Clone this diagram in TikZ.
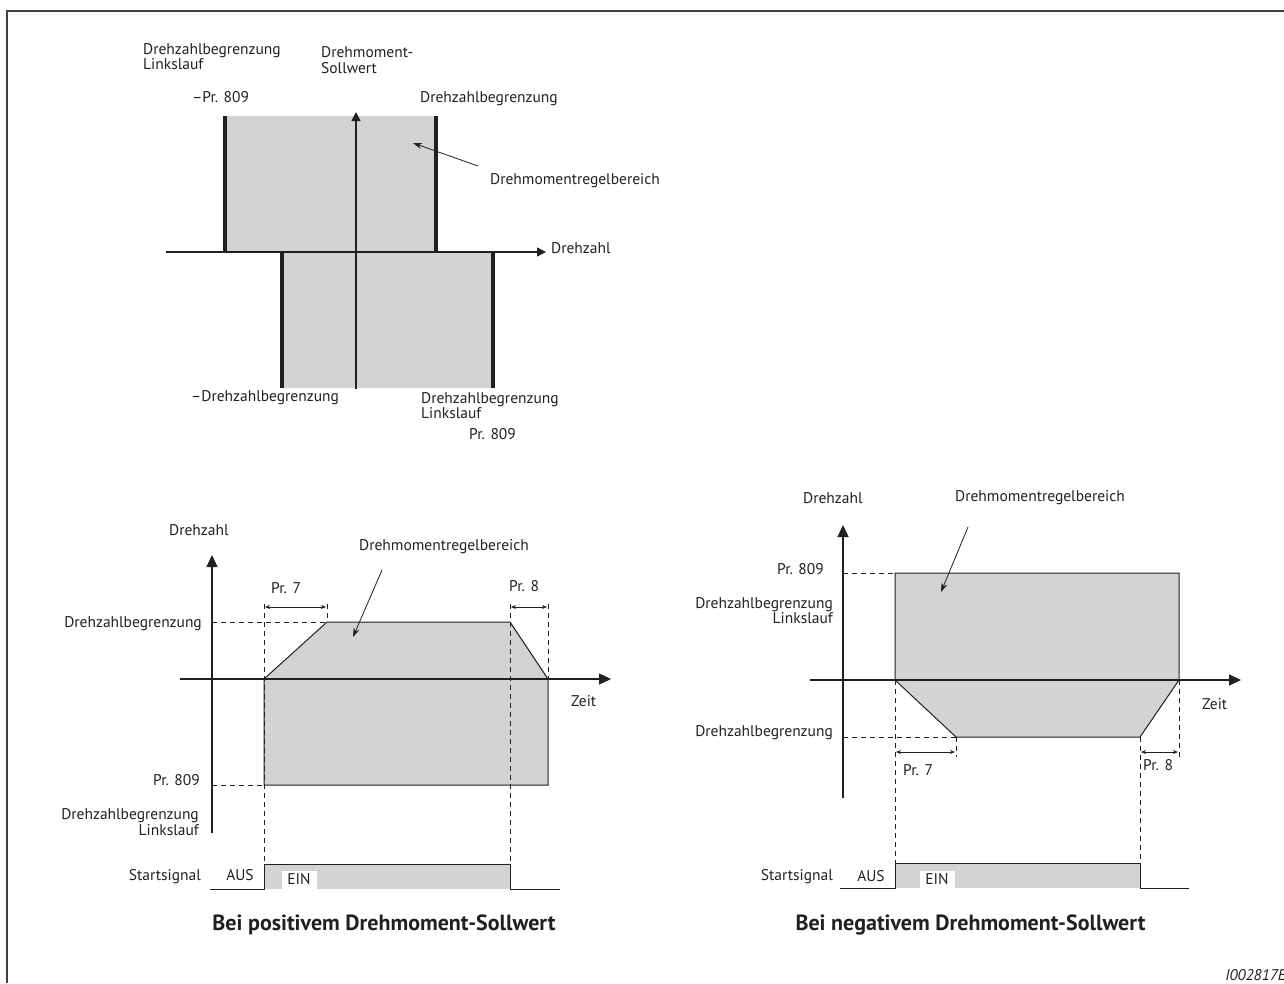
\documentclass[tikz,border=0pt]{standalone}
\usepackage{fontspec}
\setmainfont{PT Sans}
\usetikzlibrary{arrows.meta}
\definecolor{regiongray}{RGB}{209,211,212}
\definecolor{framegray}{RGB}{64,64,64}
\definecolor{inkblack}{RGB}{35,31,32}

\begin{document}
\begin{tikzpicture}[x=1pt,y=-1pt,inkblack,
        lbl/.style={inner sep=0pt,font=\fontsize{15.5}{15.5}\selectfont},
        caption/.style={inner sep=0pt,font=\fontsize{22}{23}\selectfont\bfseries},
        bigaxis/.style={line width=1.3pt,-{Triangle[length=12pt,width=11pt]}},
        smallaxis/.style={line width=1.3pt,-{Triangle[length=9pt,width=9pt]}},
        region/.style={fill=regiongray,draw=inkblack,line width=1pt},
        limitbar/.style={line width=4.5pt},
        guide/.style={line width=0.7pt,dash pattern=on 5pt off 4pt},
        span/.style={line width=0.7pt,{Stealth[length=5pt,width=4pt]}-{Stealth[length=5pt,width=4pt]}},
        pointer/.style={line width=0.8pt,-{Stealth[length=9pt,width=6pt]}},
        signal/.style={line width=1pt},
        einbox/.style={fill=white,inner sep=0pt,minimum width=35pt,minimum height=18pt,font=\fontsize{15.5}{15.5}\selectfont}]
    \useasboundingbox (0,0) rectangle (1284,983);
    \draw[framegray,line width=2pt] (7,983) -- (7,11) -- (1284,11);

    % speed limit diagram
    \fill[regiongray] (225,116) rectangle (436,252);
    \fill[regiongray] (282,252) rectangle (493,388);
    \draw[limitbar] (225,116) -- (225,252);
    \draw[limitbar] (436,116) -- (436,252);
    \draw[limitbar] (282,252) -- (282,388);
    \draw[limitbar] (493,252) -- (493,388);
    \draw[smallaxis] (166,252) -- (546,252);
    \draw[smallaxis] (356,389) -- (356,112);
    \node[lbl,anchor=west,align=left] (revlimA) at (143,56.5) {Drehzahlbegrenzung\\Linkslauf};
    \node[lbl,anchor=west,align=left] (torqueref) at (321,60) {Drehmoment-\\Sollwert};
    \node[lbl,anchor=west] (negprA) at (192,97) {–Pr. 809};
    \node[lbl,anchor=west] (fwdlimA) at (420,99) {Drehzahlbegrenzung};
    \node[lbl,anchor=west] (ctrlA) at (490,181) {Drehmomentregelbereich};
    \node[lbl,anchor=west] (speedA) at (551,248) {Drehzahl};
    \node[lbl,anchor=west] (neglimA) at (191,398) {–Drehzahlbegrenzung};
    \node[lbl,anchor=west,align=left] (revlimB) at (421,405.5) {Drehzahlbegrenzung\\Linkslauf};
    \node[lbl,anchor=west] (prA) at (469,434) {Pr. 809};
    \coordinate (ptrA) at (478,166);
    \coordinate (tipA) at (413,143);
    \draw[pointer] (ptrA) -- (tipA);

    % positive torque reference
    \draw[region] (264,679) -- (327,622) -- (510,622) -- (548,679) -- (548,785) -- (264,785) -- cycle;
    \draw[guide] (212,622) -- (327,622);
    \draw[guide] (212,785) -- (264,785);
    \draw[guide] (264,604) -- (264,864);
    \draw[guide] (327,604) -- (327,622);
    \draw[guide] (510,604) -- (510,864);
    \draw[guide] (548,604) -- (548,679);
    \draw[bigaxis] (180,679) -- (611,679);
    \draw[bigaxis] (212,833) -- (212,555);
    \draw[span] (265,607) -- (326,607);
    \draw[span] (511,607) -- (547,607);
    \node[lbl,anchor=west] (speedB) at (169,530) {Drehzahl};
    \node[lbl,anchor=west] (ctrlB) at (359,547) {Drehmomentregelbereich};
    \node[lbl,anchor=west] (accB) at (271,588) {Pr. 7};
    \node[lbl,anchor=west] (decB) at (509,586) {Pr. 8};
    \node[lbl,anchor=west] (timeB) at (571,701) {Zeit};
    \node[lbl,anchor=east] (fwdlimB) at (202,624) {Drehzahlbegrenzung};
    \node[lbl,anchor=east] (prB) at (200,780) {Pr. 809};
    \node[lbl,anchor=east,align=right] (revlimC) at (199,822) {Drehzahlbegrenzung\\Linkslauf};
    \coordinate (ptrB) at (382,570);
    \coordinate (tipB) at (353,637);
    \draw[pointer] (ptrB) -- (tipB);
    \fill[regiongray] (264,864) rectangle (510,889);
    \draw[signal] (210,889) -- (264,889) -- (264,864) -- (510,864) -- (510,889) -- (560,889);
    \node[lbl,anchor=east] (startB) at (201,877) {Startsignal};
    \node[lbl] (offB) at (240,875) {AUS};
    \node[einbox] (onB) at (299,879.5) {EIN};
    \node[caption] (capB) at (384,925) {Bei positivem Drehmoment-Sollwert};

    % negative torque reference
    \draw[region] (895,573) -- (1179,573) -- (1179,680) -- (1140,737) -- (956,737) -- (895,680) -- cycle;
    \draw[guide] (843,573) -- (895,573);
    \draw[guide] (843,737) -- (956,737);
    \draw[guide] (895,680) -- (895,863);
    \draw[guide] (956,737) -- (956,757);
    \draw[guide] (1140,737) -- (1140,863);
    \draw[guide] (1179,680) -- (1179,757);
    \draw[bigaxis] (810,680) -- (1241,680);
    \draw[bigaxis] (843,798) -- (843,525);
    \draw[span] (896,752) -- (955,752);
    \draw[span] (1141,752) -- (1178,752);
    \node[lbl,anchor=west] (speedC) at (803,498) {Drehzahl};
    \node[lbl,anchor=west] (ctrlC) at (955,498) {Drehmomentregelbereich};
    \node[lbl,anchor=west] (accC) at (903,770) {Pr. 7};
    \node[lbl,anchor=west] (decC) at (1143,765) {Pr. 8};
    \node[lbl,anchor=west] (timeC) at (1202,704) {Zeit};
    \node[lbl,anchor=east] (prC) at (824,569) {Pr. 809};
    \node[lbl,anchor=east,align=right] (revlimD) at (833,610.5) {Drehzahlbegrenzung\\Linkslauf};
    \node[lbl,anchor=east] (fwdlimC) at (833,733) {Drehzahlbegrenzung};
    \coordinate (ptrC) at (968,527);
    \coordinate (tipC) at (941,592);
    \draw[pointer] (ptrC) -- (tipC);
    \fill[regiongray] (895,863) rectangle (1140,888);
    \draw[signal] (840,888) -- (895,888) -- (895,863) -- (1140,863) -- (1140,888) -- (1189,888);
    \node[lbl,anchor=east] (startC) at (833,877) {Startsignal};
    \node[lbl] (offC) at (871,876) {AUS};
    \node[einbox] (onC) at (937,879.5) {EIN};
    \node[caption] (capC) at (970.5,925) {Bei negativem Drehmoment-Sollwert};

    \node[lbl,anchor=east,font=\fontsize{15.5}{15.5}\selectfont\itshape] (figid) at (1286,975) {I002817E};
\end{tikzpicture}
\end{document}
